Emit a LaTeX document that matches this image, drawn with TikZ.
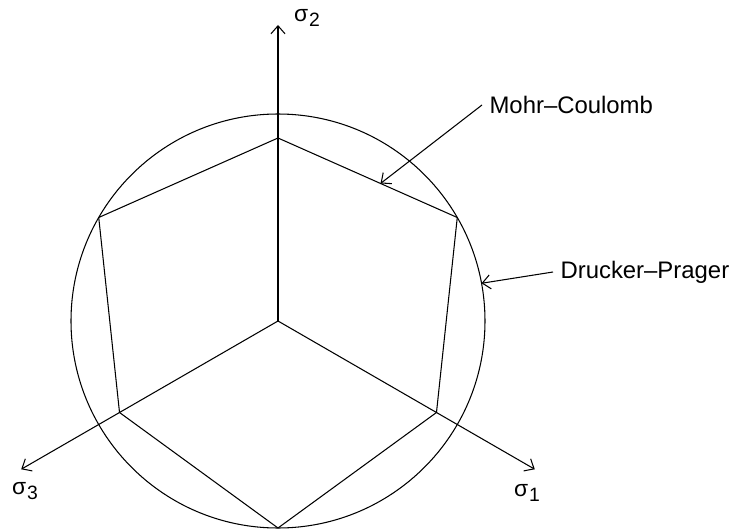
\documentclass[tikz,border=0pt]{standalone}
\usepackage{fontspec}
\setmainfont{Liberation Sans}
\usetikzlibrary{
    calc,
    arrows.meta
}
\tikzset{
  every path/.style={
    black,
    line width=0.6pt
  },
  lbl/.style={
    font=\fontsize{13.6}{16}\selectfont,
    inner sep=4pt
  },
  sig/.style={
    font=\fontsize{13}{15}\selectfont,
    inner sep=0pt
  }
}
\newcommand{\sigsub}[1]{σ\kern0.5pt\raisebox{-0.45ex}{\fontsize{11}{12}\selectfont #1}}

\begin{document}
\begin{tikzpicture}[>={Straight Barb[length=1.6mm,width=2.8mm]}]

    \useasboundingbox (-5.56,-4.2) rectangle (9.16,6.42);

    % 原点と半径
    \coordinate (O) at (0,0);
    \def\Rdp{4.14}
    \def\Rmc{3.66}

    % 主応力軸
    \coordinate (s1) at (-30:5.93);
    \coordinate (s2) at (90:5.92);
    \coordinate (s3) at (210:5.93);
    \draw[->] (O) -- (s1);
    \draw[->] (O) -- (s2);
    \draw[->] (O) -- (s3);

    % 軸のラベル
    \node[sig] (l1) at (4.98,-3.44) {\sigsub{1}};
    \node[sig] (l2) at (0.58,6.06) {\sigsub{2}};
    \node[sig] (l3) at (-5.06,-3.40) {\sigsub{3}};

    % Drucker-Prager の円
    \draw (O) circle (\Rdp);

    % Mohr-Coulomb の六角形
    \coordinate (h1) at (90:\Rmc);
    \coordinate (h2) at (30:\Rdp);
    \coordinate (h3) at (-30:\Rmc);
    \coordinate (h4) at (-90:\Rdp);
    \coordinate (h5) at (210:\Rmc);
    \coordinate (h6) at (150:\Rdp);
    \draw[line join=round] (h1) -- (h2) -- (h3) -- (h4) -- (h5) -- (h6) -- cycle;

    % 引き出し線
    \node[lbl, anchor=west] (mc) at (4.08,4.32) {Mohr\textendash Coulomb};
    \draw[->] (mc.west) -- ($(h1)!0.572!(h2)$);

    \node[lbl, anchor=west] (dp) at (5.50,0.98) {Drucker\textendash Prager};
    \draw[->] (dp.west) -- (10.5:\Rdp);

\end{tikzpicture}
\end{document}
